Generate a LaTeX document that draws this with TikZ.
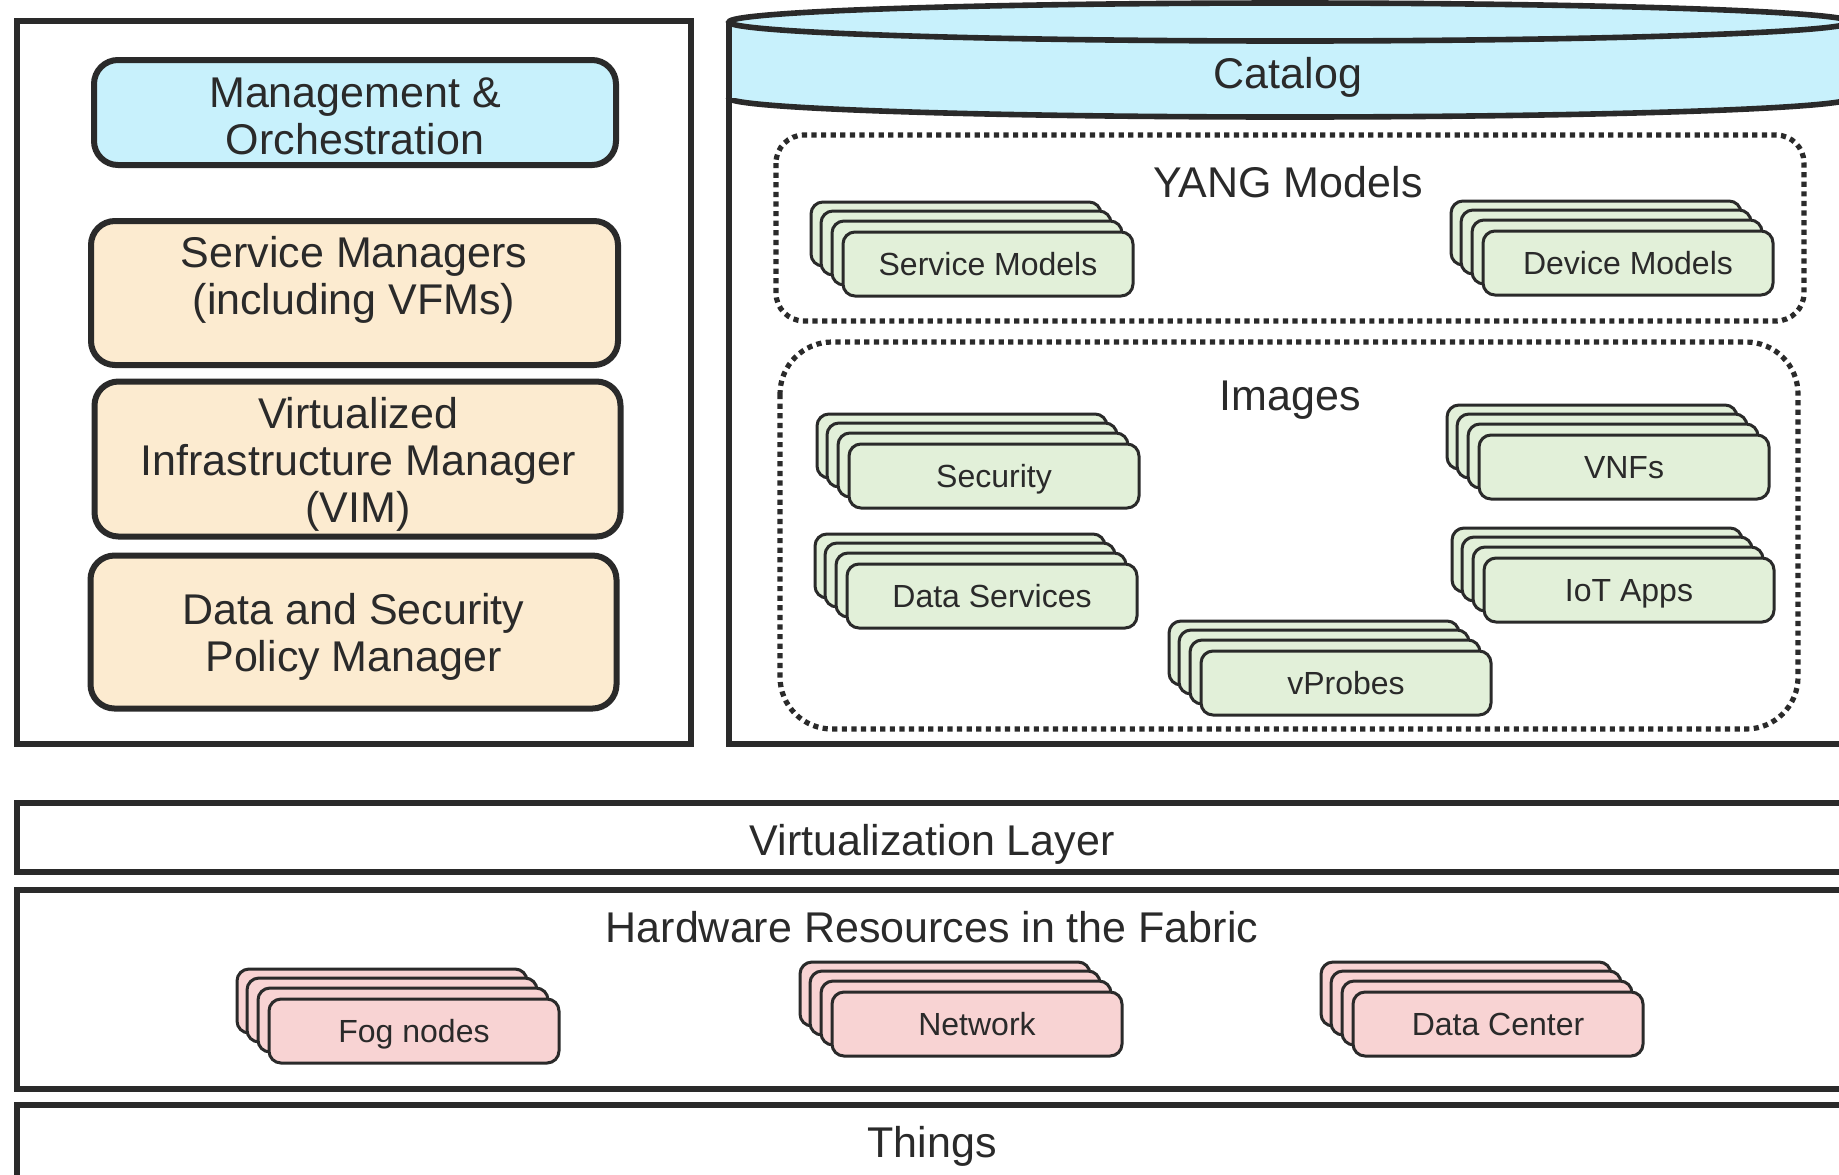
\documentclass[tikz,border=0pt]{standalone}
\usepackage{fontspec}
\setmainfont{Liberation Sans}
\definecolor{lc}{RGB}{42,42,42}
\definecolor{cyanf}{RGB}{200,241,252}
\definecolor{peachf}{RGB}{252,235,208}
\definecolor{greenf}{RGB}{226,240,217}
\definecolor{pinkf}{RGB}{248,211,211}
\newcommand\bigf{\fontsize{21.5}{23.5}\selectfont}
\newcommand\smallf{\fontsize{16}{19}\selectfont}
\tikzset{
  frame/.style={draw=lc, line width=2.8pt},
  lbox/.style={draw=lc, line width=3pt, rounded corners=12pt, inner sep=0pt},
  lbl/.style={text=lc, font=\bigf, align=center, inner sep=0pt},
  onelbl/.style={lbl, text height=15.5pt, text depth=0pt},
  dotbox/.style={draw=lc, line width=2.6pt, dash pattern=on 2.6pt off 2.2pt},
  stk/.style={draw=lc, line width=1.5pt, rounded corners=6pt},
  stkfront/.style={stk, minimum width=145pt, minimum height=32pt, inner sep=0pt, font=\smallf, text=lc, text height=11.5pt, text depth=0pt},
}
\newcommand\stackbox[5]{%
  \foreach \dx/\dy in {32/30,22/21,11/11}{
    \draw[stk,fill=#4] ({#2-145-\dx},{#3-16*2-\dy}) rectangle ++(290,64);
  }
  \node[stkfront,fill=#4] (#1) at (#2,#3) {#5};
}
\begin{document}
\begin{tikzpicture}[x=0.5pt,y=-0.5pt]
\useasboundingbox (0,0) rectangle (1839,1174);
\clip (0,0) rectangle (1839,1174);
\fill[white] (0,0) rectangle (1839,1174);

% left panel
\draw[frame] (17,21) rectangle (691,744);
\node[lbox, fill=cyanf, minimum width=261pt, minimum height=52.5pt] (mgmt) at (355,112.5) {};
\node[lbl] (mgmttext) at (355,116.5) {Management \&\\Orchestration};
\node[lbox, fill=peachf, minimum width=263.5pt, minimum height=72pt] (sm) at (354.5,293) {};
\node[lbl] (smtext) at (354,279.5) {Service Managers\\(including VFMs)};
\node[lbox, fill=peachf, minimum width=263pt, minimum height=77.5pt] (vim) at (357.5,459) {};
\node[lbl] (vimtext) at (358,464.5) {Virtualized\\Infrastructure Manager\\(VIM)};
\node[lbox, fill=peachf, minimum width=263pt, minimum height=76.5pt] (dsp) at (353.5,632) {};
\node[lbl] (dsptext) at (353.5,637) {Data and Security\\Policy Manager};

% catalog cylinder
\fill[cyanf] (729,22) rectangle (1851,98);
\fill[cyanf] (1290,98) ellipse [x radius=561, y radius=19];
\draw[frame,fill=cyanf] (1290,22) ellipse [x radius=561, y radius=19];
\begin{scope}
  \clip (700,98) rectangle (1900,140);
  \draw[frame] (1290,98) ellipse [x radius=561, y radius=19];
\end{scope}
\draw[frame] (729,22) -- (729,744) -- (1900,744);
\draw[frame] (1851,22) -- (1851,98);
\node[onelbl] (catalog) at (1288,73) {Catalog};

% YANG models
\draw[dotbox, rounded corners=14pt] (776,135) rectangle (1804,321);
\node[onelbl] (yang) at (1288,182) {YANG Models};
\stackbox{svcm}{988}{264}{greenf}{Service Models}
\stackbox{devm}{1628}{263}{greenf}{Device Models}

% Images
\draw[dotbox, rounded corners=26pt] (780,342) rectangle (1798,729);
\node[onelbl] (images) at (1290,395) {Images};
\stackbox{sec}{994}{476}{greenf}{Security}
\stackbox{dsv}{992}{596}{greenf}{Data Services}
\stackbox{vnf}{1624}{467}{greenf}{VNFs}
\stackbox{iot}{1629}{590}{greenf}{IoT Apps}
\stackbox{vpr}{1346}{683}{greenf}{vProbes}

% layers
\draw[frame] (1900,803) -- (17,803) -- (17,872) -- (1900,872);
\node[onelbl] (virt) at (932,840) {Virtualization Layer};
\draw[frame] (1900,890) -- (17,890) -- (17,1089) -- (1900,1089);
\node[onelbl] (hw) at (932,927) {Hardware Resources in the Fabric};
\stackbox{fog}{414}{1031}{pinkf}{Fog nodes}
\stackbox{net}{977}{1024}{pinkf}{Network}
\stackbox{dc}{1498}{1024}{pinkf}{Data Center}
\draw[frame] (1900,1105) -- (17,1105) -- (17,1200);
\node[onelbl] (things) at (932,1142) {Things};
\end{tikzpicture}
\end{document}
